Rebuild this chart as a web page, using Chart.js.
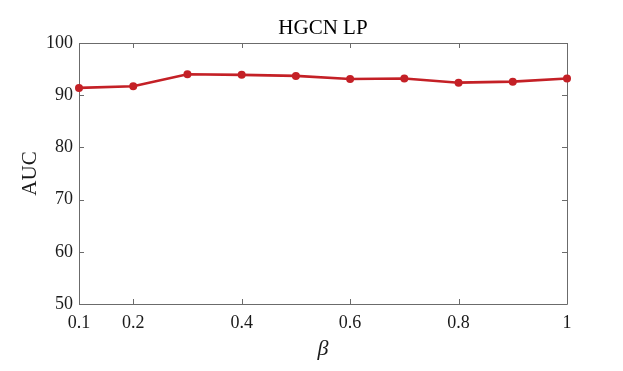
<!DOCTYPE html>
<html>
<head>
<meta charset="utf-8">
<script src="https://cdn.jsdelivr.net/npm/chart.js@4/dist/chart.umd.min.js"></script>
<style>
html,body{margin:0;padding:0;background:#fff;}
#wrap{width:623px;height:371px;position:relative;}
</style>
</head>
<body>
<div id="wrap"><canvas id="c" width="623" height="371"></canvas></div>
<script>
const betaValues = [0.1, 0.2, 0.3, 0.4, 0.5, 0.6, 0.7, 0.8, 0.9, 1.0];
const aucValues = [91.4, 91.7, 94.0, 93.9, 93.7, 93.1, 93.2, 92.4, 92.6, 93.2];
const xTickValues = [0.1, 0.2, 0.4, 0.6, 0.8, 1];
const yTickValues = [50, 60, 70, 80, 90, 100];
const chartTitle = 'HGCN LP';
const xLabel = 'β';
const yLabel = 'AUC';

const FONT = "'Liberation Serif', 'Times New Roman', serif";
const AXIS_COLOR = '#6b6b6b';
const TEXT_COLOR = '#1a1a1a';
const LINE_COLOR = 'rgb(196,32,38)';

const boxPlugin = {
  id: 'matlabBox',
  beforeDatasetsDraw(chart) {
    const {ctx, chartArea: a, scales} = chart;
    ctx.save();
    ctx.strokeStyle = AXIS_COLOR;
    ctx.lineWidth = 1;
    ctx.beginPath();
    ctx.rect(Math.round(a.left) + 0.5, Math.round(a.top) + 0.5, Math.round(a.right - a.left), Math.round(a.bottom - a.top));
    ctx.stroke();
    const tl = 5;
    ctx.beginPath();
    xTickValues.forEach(v => {
      const px = Math.round(scales.x.getPixelForValue(v)) + 0.5;
      ctx.moveTo(px, a.bottom); ctx.lineTo(px, a.bottom - tl);
      ctx.moveTo(px, a.top); ctx.lineTo(px, a.top + tl);
    });
    yTickValues.forEach(v => {
      const py = Math.round(scales.y.getPixelForValue(v)) + 0.5;
      ctx.moveTo(a.left, py); ctx.lineTo(a.left + tl, py);
      ctx.moveTo(a.right, py); ctx.lineTo(a.right - tl, py);
    });
    ctx.stroke();
    ctx.restore();
  },
  afterDraw(chart) {
    const {ctx, chartArea: a} = chart;
    const cx = (a.left + a.right) / 2;
    const cy = (a.top + a.bottom) / 2;
    ctx.save();
    ctx.fillStyle = '#000';
    ctx.textAlign = 'center';
    ctx.textBaseline = 'middle';
    ctx.font = '21px ' + FONT;
    ctx.fillText(chartTitle, cx, 28);
    ctx.fillStyle = TEXT_COLOR;
    ctx.font = 'italic 22px ' + FONT;
    ctx.fillText(xLabel, cx, 349);
    ctx.translate(30, cy);
    ctx.rotate(-Math.PI / 2);
    ctx.font = '21px ' + FONT;
    ctx.fillText(yLabel, 0, 0);
    ctx.restore();
  }
};

new Chart(document.getElementById('c'), {
  type: 'line',
  data: {
    datasets: [{
      data: betaValues.map((b, i) => ({x: b, y: aucValues[i]})),
      borderColor: LINE_COLOR,
      backgroundColor: LINE_COLOR,
      borderWidth: 2.6,
      pointRadius: 4,
      pointBorderWidth: 0,
      pointBackgroundColor: LINE_COLOR,
      tension: 0,
      clip: false
    }]
  },
  options: {
    responsive: false,
    animation: false,
    devicePixelRatio: 1,
    layout: {padding: {top: 43, right: 56, left: 0, bottom: 0}},
    plugins: {legend: {display: false}, title: {display: false}, tooltip: {enabled: false}},
    scales: {
      x: {
        type: 'linear', min: 0.1, max: 1,
        afterBuildTicks(s) { s.ticks = xTickValues.map(v => ({value: v})); },
        afterFit(s) { s.height = 67; },
        grid: {display: false, drawTicks: false},
        border: {display: false},
        ticks: {
          padding: 8, maxRotation: 0, autoSkip: false,
          color: TEXT_COLOR, font: {family: FONT, size: 18},
          callback: v => String(Math.round(v * 10) / 10)
        }
      },
      y: {
        min: 50, max: 100,
        afterBuildTicks(s) { s.ticks = yTickValues.map(v => ({value: v})); },
        afterFit(s) { s.width = 79; },
        grid: {display: false, drawTicks: false},
        border: {display: false},
        ticks: {
          padding: 6, color: TEXT_COLOR, font: {family: FONT, size: 18}
        }
      }
    }
  },
  plugins: [boxPlugin]
});
</script>
</body>
</html>
